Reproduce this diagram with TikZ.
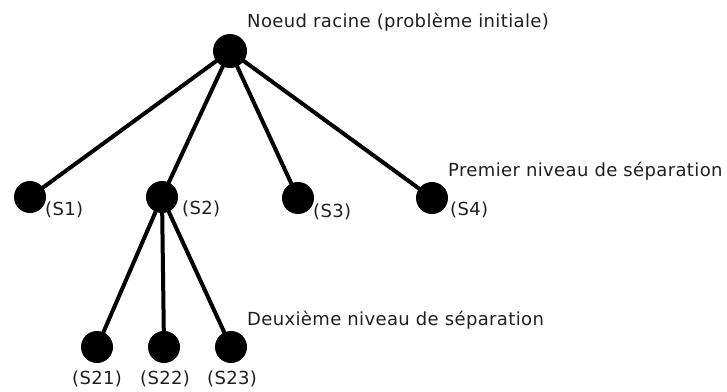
\documentclass[tikz,border=0pt]{standalone}
\usepackage{fontspec}
\setmainfont{DejaVu Sans}[LetterSpace=2]
\begin{document}
\begin{tikzpicture}[x=1pt,y=-1pt,
  vertex/.style={circle,fill=black,draw=none,minimum size=32pt,inner sep=0pt},
  edge/.style={line width=4pt,black},
  caption/.style={anchor=west,inner sep=0pt,text=black!88,font=\fontsize{18}{21}\selectfont}]
\useasboundingbox (0,0) rectangle (727,391);
% root of the separation tree
\node[vertex,minimum size=34pt] (root) at (230,51) {};
% first level
\node[vertex] (s1) at (30,197) {};
\node[vertex] (s2) at (162,197) {};
\node[vertex] (s3) at (298,198) {};
\node[vertex] (s4) at (432,198) {};
% second level, below S2
\node[vertex] (s21) at (97,347) {};
\node[vertex] (s22) at (164,347) {};
\node[vertex] (s23) at (231,347) {};
% branches
\foreach \c in {s1,s2,s3,s4} \draw[edge] (root.center) -- (\c.center);
\foreach \c in {s21,s22,s23} \draw[edge] (s2.center) -- (\c.center);
% labels
\node[caption] (lroot) at (247,22) {Noeud racine (problème initiale)};
\node[caption] (lvl1) at (448,171) {Premier niveau de séparation};
\node[caption] (lvl2) at (247,320) {Deuxième niveau de séparation};
\node[caption] (l1) at (45,210) {(S1)};
\node[caption] (l2) at (182,209) {(S2)};
\node[caption] (l3) at (313,212) {(S3)};
\node[caption] (l4) at (450,210) {(S4)};
\node[caption] (l21) at (72,379) {(S21)};
\node[caption] (l22) at (140,379) {(S22)};
\node[caption] (l23) at (207,379) {(S23)};
\end{tikzpicture}
\end{document}
